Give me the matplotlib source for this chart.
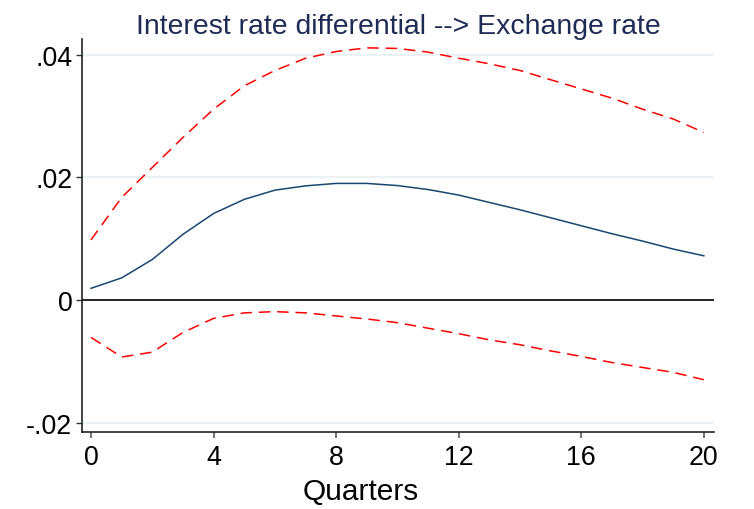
import matplotlib
matplotlib.use("Agg")
import matplotlib.pyplot as plt

# Impulse response: interest rate differential shock -> exchange rate
quarters = list(range(21))
irf = [0.0019, 0.0036, 0.0066, 0.0107, 0.0141, 0.0164, 0.0179, 0.0186, 0.0190,
       0.0190, 0.01865, 0.0180, 0.0171, 0.0159, 0.0147, 0.0134, 0.0121, 0.0108,
       0.0096, 0.0083, 0.0072]
upper = [0.0098, 0.0167, 0.0216, 0.0265, 0.0311, 0.0349, 0.0374, 0.0394, 0.0405,
         0.0411, 0.0410, 0.0404, 0.0394, 0.0385, 0.0374, 0.0359, 0.0344, 0.0329,
         0.0311, 0.0295, 0.0273]
lower = [-0.0061, -0.0093, -0.0085, -0.0053, -0.0030, -0.0021, -0.0019, -0.0021,
         -0.0026, -0.0031, -0.0037, -0.0046, -0.0055, -0.0065, -0.0073, -0.0083,
         -0.0092, -0.0102, -0.0110, -0.0118, -0.0130]

ytick_vals = [-0.02, 0.0, 0.02, 0.04]
ytick_labels = ["-.02", "0", ".02", ".04"]
xtick_vals = [0, 4, 8, 12, 16, 20]

plt.rcParams['font.family'] = ['Liberation Sans', 'DejaVu Sans']

fig = plt.figure(figsize=(7.54, 5.10), dpi=100)
ax = fig.add_axes([82 / 754, 1 - 433 / 510, 632 / 754, 393 / 510])

grid_color = "#eaf2f3"
for v in ytick_vals:
    if v != 0:
        ax.axhline(v, color=grid_color, lw=1.5, zorder=0)
ax.axhline(0, color="black", lw=1.2, zorder=1)

ax.plot(quarters, upper, color="red", lw=1.1, dashes=(7.5, 4.5), zorder=3)
ax.plot(quarters, lower, color="red", lw=1.1, dashes=(7.5, 4.5), zorder=3)
ax.plot(quarters, irf, color="#1a476f", lw=1.1, zorder=4)

ax.set_xlim(-0.294, 20.33)
ax.set_ylim(-0.02152, 0.04254)

ax.set_yticks(ytick_vals)
ax.set_yticklabels(ytick_labels)
ax.set_xticks(xtick_vals)
ax.set_xticklabels([str(v) for v in xtick_vals])

ax.tick_params(axis='y', length=4, width=1, color="#333333", pad=3, labelsize=19.3)
ax.tick_params(axis='x', length=4, width=1.5, color="#777777", pad=5, labelsize=19.3)

for side in ("top", "right"):
    ax.spines[side].set_visible(False)
for side in ("left", "bottom"):
    ax.spines[side].set_linewidth(1.2)
    ax.spines[side].set_color("#222222")

ax.set_title("Interest rate differential --> Exchange rate", color="#1e2b55",
             fontsize=20.4, pad=4)
ax.set_xlabel("Quarters", fontsize=21.5)
ax.xaxis.set_label_coords(0.441, -0.115)

fig.savefig("out.png", dpi=100, facecolor="white")
